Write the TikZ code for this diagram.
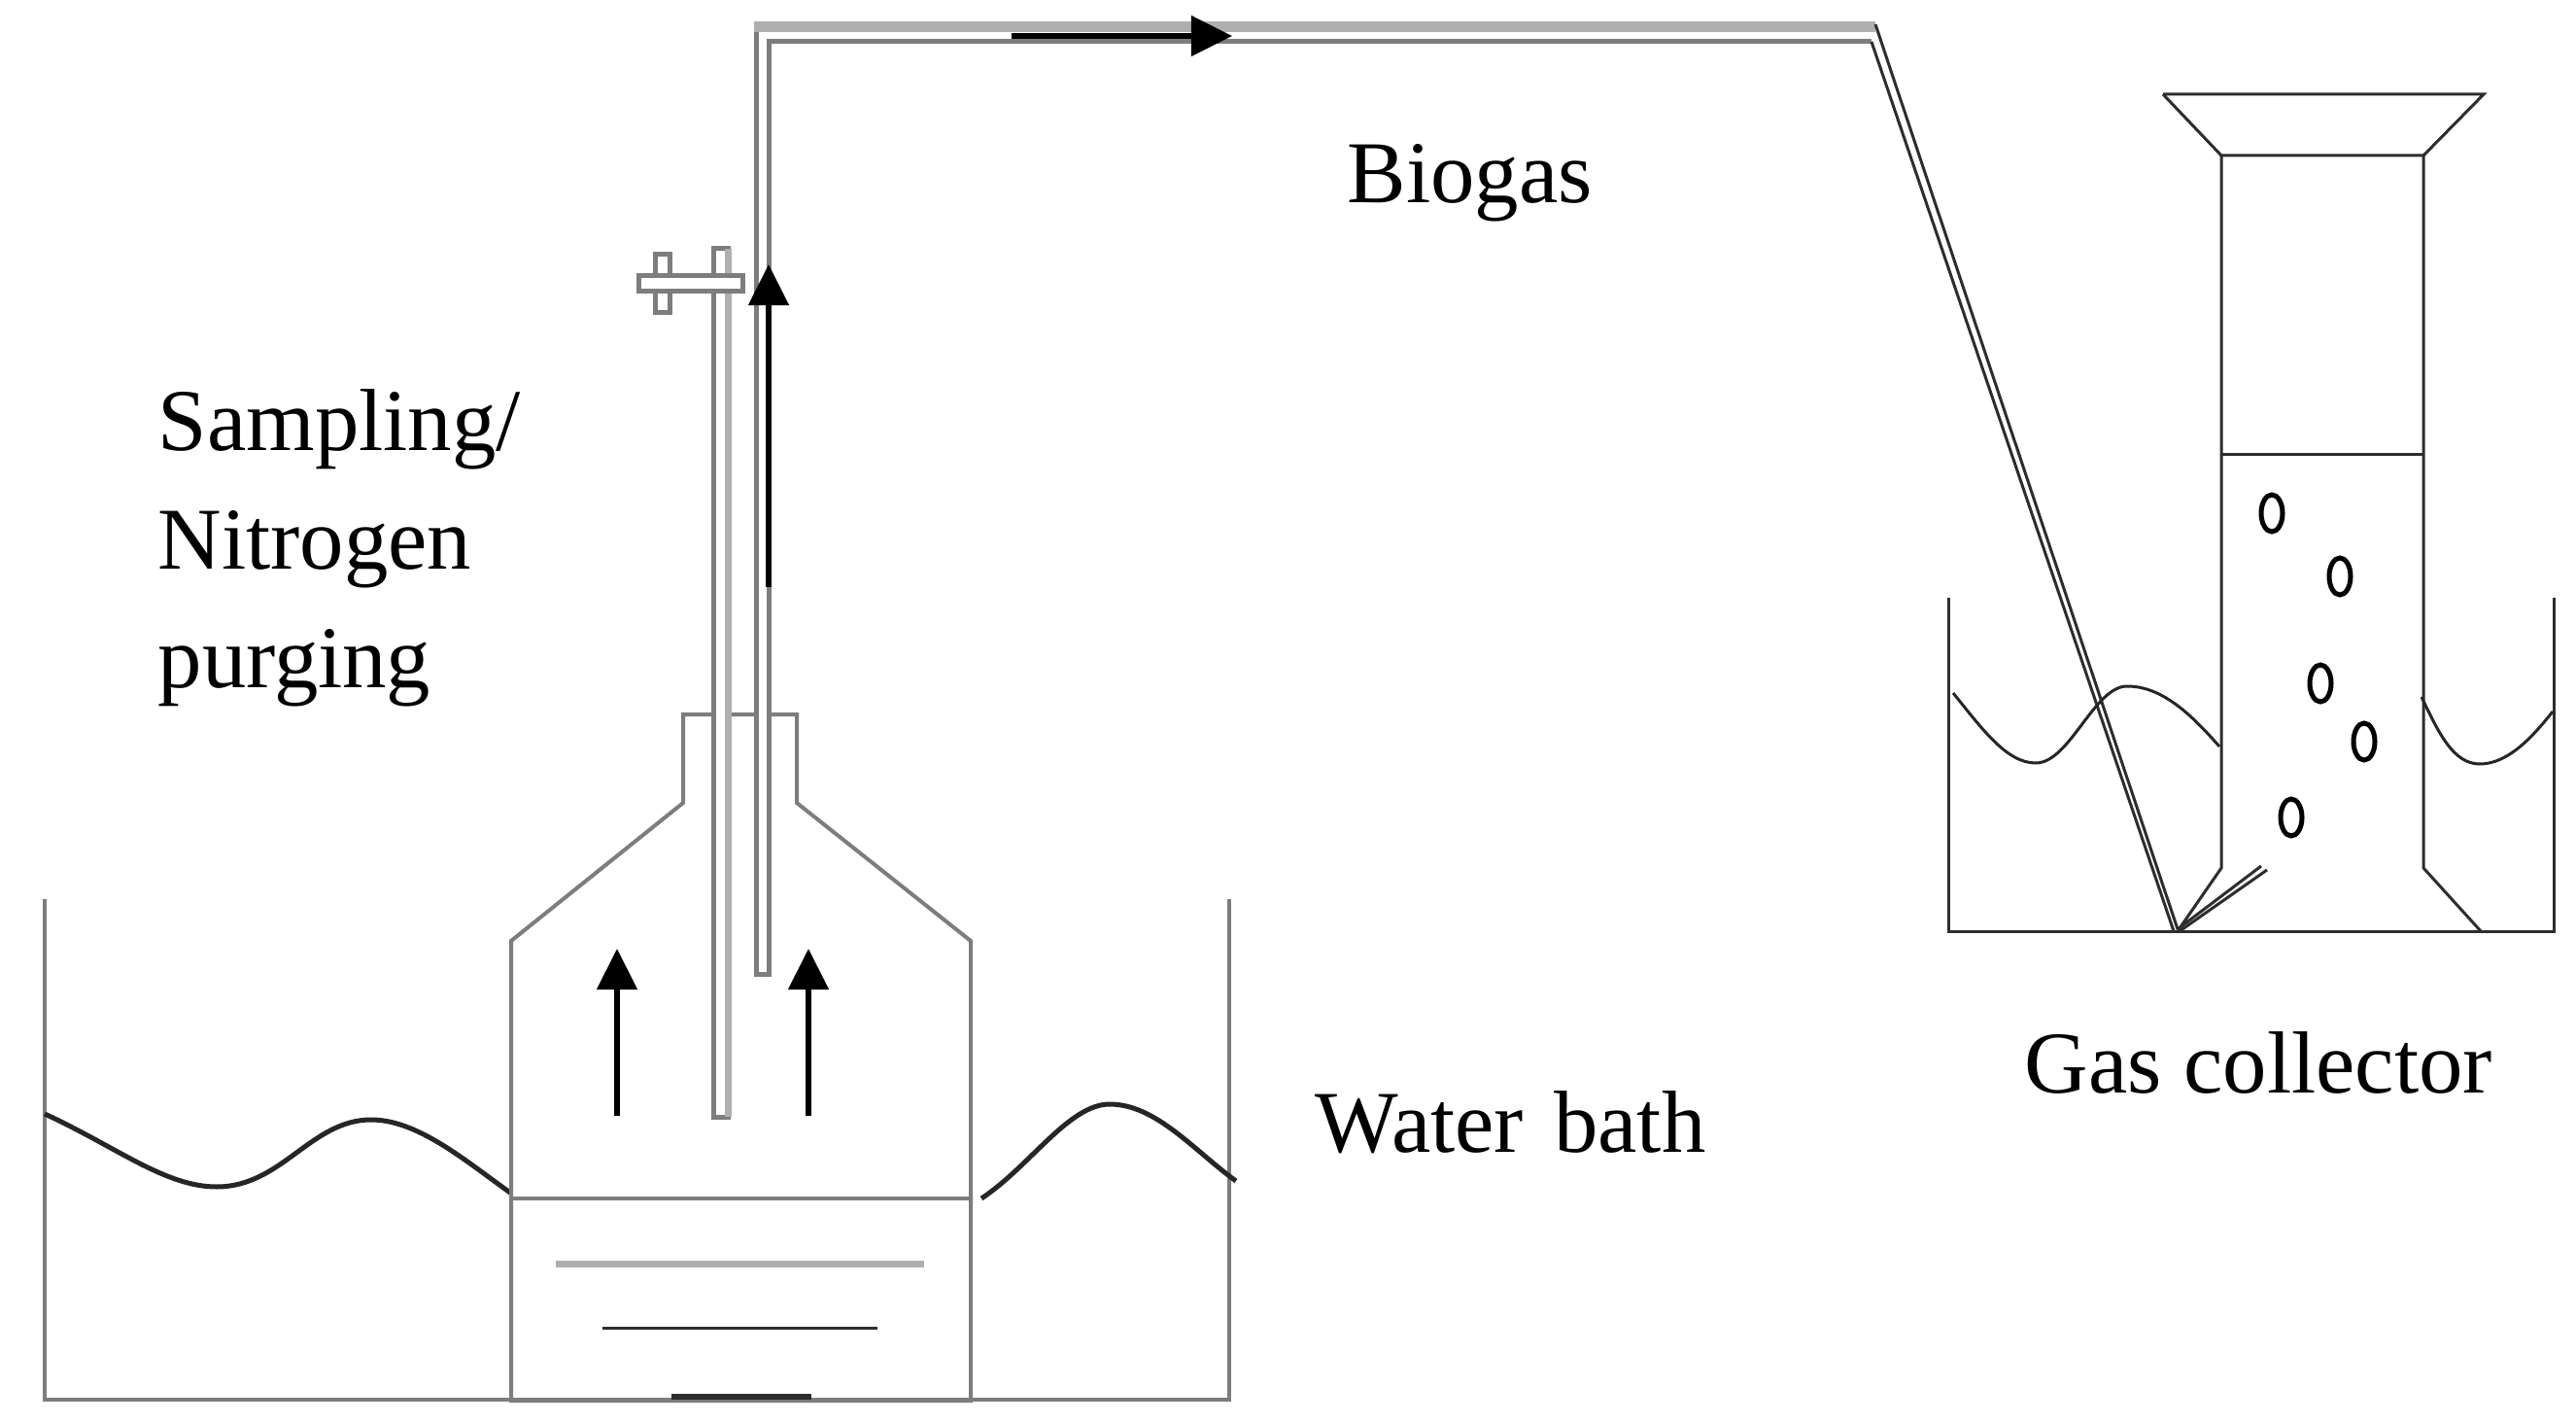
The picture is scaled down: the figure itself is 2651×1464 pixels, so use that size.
\documentclass[tikz,border=0pt]{standalone}
\usepackage{fontspec}
\setmainfont{Liberation Serif}
\usetikzlibrary{arrows.meta}
\definecolor{glassA}{RGB}{125,125,125}
\definecolor{glassB}{RGB}{175,175,175}
\definecolor{lineA}{RGB}{45,45,45}
\begin{document}
\begin{tikzpicture}[
                  x=0.01cm,y=-0.01cm,
                  lbl/.style={inner sep=0pt,align=left,font=\fontsize{25.8}{34.6}\selectfont},
                  wall/.style={draw=glassA,line width=4pt*0.2845},
                  glass/.style={draw=glassA,line width=4pt*0.2845},
                  tube/.style={draw=glassA,fill=white,line width=5pt*0.2845},
                  thin line/.style={draw=lineA,line width=3pt*0.2845},
                  wave/.style={draw=black!85,line width=5pt*0.2845},
                  arr/.style={-{Triangle[length=12pt,width=11.6pt]},black,line width=6pt*0.2845}
                ]
                \useasboundingbox (0,0) rectangle (2651,1464);

                % water bath
                \draw[wall] (46,925) -- (46,1440) -- (1265,1440) -- (1265,925);
                \draw[wave] (46,1146) .. controls (120,1180) and (170,1221) .. (223,1221) .. controls (290,1221) and (320,1152) .. (382,1152) .. controls (430,1152) and (480,1195) .. (525,1227);
                \draw[wave] (1010,1233) .. controls (1060,1200) and (1100,1136) .. (1142,1136) .. controls (1190,1136) and (1230,1185) .. (1272,1215);

                % bottle
                \draw[glass] (526,1441) -- (526,968) -- (703,826) -- (703,735) -- (820,735) -- (820,826) -- (999,968) -- (999,1441) -- cycle;
                \draw[glass] (526,1233) -- (999,1233);
                \draw[draw=glassB,line width=7pt*0.2845] (572,1300) -- (951,1300);
                \draw[thin line] (620,1366) -- (903,1366);
                \draw[draw=lineA,line width=6pt*0.2845] (691,1437) -- (835,1437);
                \foreach \x in {635,832}
                    \draw[arr] (\x,1148) -- (\x,976);

                % tubes and valve
                \draw[tube] (674,262) rectangle (689,322);
                \draw[tube] (734,256) rectangle (749,1149);
                \draw[draw=glassB,line width=7pt*0.2845] (749,256) -- (749,1149);
                \draw[tube] (657,284) rectangle (764,300);
                \draw[tube] (778,28) -- (778,1002) -- (791,1002) -- (791,43) -- (1926,43);
                \draw[draw=glassB,line width=11pt*0.2845] (776,28) -- (1930,28);
                \draw[thin line] (1926,43) -- (2237,958);
                \draw[thin line] (1930,25) -- (2241,956);
                \draw[arr] (791,604) -- (791,272);
                \draw[arr] (1041,37) -- (1268,37);

                % gas collector
                \draw[thin line] (2005,615) -- (2005,958) -- (2628,958) -- (2628,615);
                \draw[thin line] (2241,958) -- (2286,893) -- (2286,160) -- (2494,160) -- (2494,893) -- (2553,958);
                \draw[thin line] (2226,97) -- (2556,97) -- (2494,160);
                \draw[thin line] (2226,97) -- (2286,160);
                \draw[thin line] (2286,468) -- (2494,468);
                \draw[thin line] (2241,956) -- (2327,891);
                \draw[thin line] (2243,958) -- (2333,895);
                \draw[wave,line width=3pt*0.2845] (2010,713) .. controls (2040,750) and (2065,785) .. (2095,785) .. controls (2130,785) and (2155,706) .. (2189,706) .. controls (2225,706) and (2255,735) .. (2284,768);
                \draw[wave,line width=3pt*0.2845] (2492,717) .. controls (2510,755) and (2525,786) .. (2552,786) .. controls (2580,786) and (2605,760) .. (2627,732);
                \foreach \x/\y in {2338/528,2408/593,2388/703,2433/763,2358/841}
                    \draw[black,line width=5pt*0.2845] (\x,\y) ellipse (11 and 19);

                \node[lbl,anchor=base west] (biogas) at (1386,209) {Biogas};
                \node[lbl,anchor=north west] (sampling) at (162,400) {Sampling/\\Nitrogen\\purging};
                \node[lbl,anchor=base west] (bath) at (1353,1185) {Water\hspace{2.4pt} bath};
                \node[lbl,anchor=base west] (collector) at (2083,1124) {Gas collector};
                \end{tikzpicture}
\end{document}
